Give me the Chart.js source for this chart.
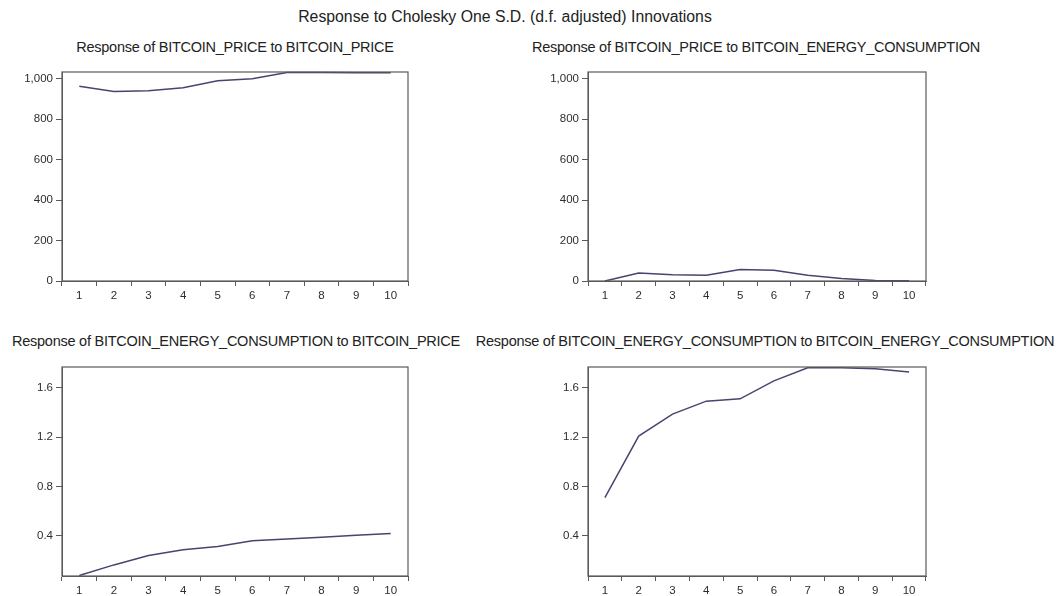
<!DOCTYPE html>
<html>
<head>
<meta charset="utf-8">
<title>Response to Cholesky One S.D. Innovations</title>
<script src="https://cdn.jsdelivr.net/npm/chart.js@4"></script>
<style>
  body { margin: 0; background: #fff; font-family: "Liberation Sans", Arial, sans-serif; color: #222; }
  #wrap { position: relative; width: 1057px; height: 596px; overflow: hidden; }
  .t { position: absolute; white-space: nowrap; transform: translate(-50%, -50%); line-height: 1; }
  .main { font-size: 15.8px; }
  .sub { font-size: 14.5px; letter-spacing: -0.25px; }
  canvas { position: absolute; }
</style>
</head>
<body>
<div id="wrap">
  <div class="t main" style="left:505px; top:17px;">Response to Cholesky One S.D. (d.f. adjusted) Innovations</div>
  <div class="t sub" style="left:235px; top:47px;">Response of BITCOIN_PRICE to BITCOIN_PRICE</div>
  <div class="t sub" style="left:756px; top:47px;">Response of BITCOIN_PRICE to BITCOIN_ENERGY_CONSUMPTION</div>
  <div class="t sub" style="left:236px; top:341px;">Response of BITCOIN_ENERGY_CONSUMPTION to BITCOIN_PRICE</div>
  <div class="t sub" style="left:765px; top:341px;">Response of BITCOIN_ENERGY_CONSUMPTION to BITCOIN_ENERGY_CONSUMPTION</div>

  <canvas id="c1" width="480" height="243" style="left:0; top:60px;"></canvas>
  <canvas id="c2" width="480" height="243" style="left:520px; top:60px;"></canvas>
  <canvas id="c3" width="480" height="243" style="left:0; top:355px;"></canvas>
  <canvas id="c4" width="480" height="243" style="left:520px; top:355px;"></canvas>
</div>

<script>
// ============================
// DATA (periods 1..10)
// ============================
const periods = ["1", "2", "3", "4", "5", "6", "7", "8", "9", "10"];

const priceToPrice   = [962, 937, 940, 955, 990, 1000, 1030, 1030, 1029, 1029];
const priceToEnergy  = [0, 39, 31, 28, 57, 53, 29, 12, 3, 1];
const energyToPrice  = [0.079, 0.165, 0.241, 0.287, 0.314, 0.360, 0.376, 0.389, 0.405, 0.419];
const energyToEnergy = [0.71, 1.21, 1.388, 1.493, 1.512, 1.658, 1.763, 1.763, 1.755, 1.73];

// y tick labels
const priceTickValues  = [0, 200, 400, 600, 800, 1000];
const energyTickValues = [0.4, 0.8, 1.2, 1.6];

// axis ranges (EViews uses common scale per row)
const priceRange  = { min: 0, max: 1033 };
const energyRange = { min: 0.075, max: 1.77 };

// ============================
// STYLE
// ============================
const lineColor = "#45456e";
const axisColor = "#5a5a5a";
const textColor = "#2e2e2e";
const tickFont = { family: "'Liberation Sans', Arial, sans-serif", size: 11.5 };

// box around plot area
const frame = {
  id: "frame",
  afterDraw(chart) {
    const a = chart.chartArea, c = chart.ctx;
    c.save();
    c.strokeStyle = axisColor;
    c.lineWidth = 1.2;
    c.strokeRect(a.left, a.top, a.right - a.left, a.bottom - a.top);
    c.restore();
  }
};

function makeChart(id, values, range, tickValues, yWidth, padRight) {
  return new Chart(document.getElementById(id), {
    type: "line",
    data: {
      labels: periods,
      datasets: [{
        data: values,
        borderColor: lineColor,
        borderWidth: 1.5,
        pointRadius: 0,
        tension: 0,
        fill: false,
        clip: 4
      }]
    },
    options: {
      responsive: false,
      animation: false,
      layout: { padding: { top: 12, right: padRight, left: 0, bottom: 0 } },
      plugins: { legend: { display: false }, title: { display: false }, tooltip: { enabled: false } },
      scales: {
        x: {
          offset: true,
          grid: { display: true, drawOnChartArea: false, offset: true, tickLength: 5, color: axisColor },
          border: { display: true, color: axisColor },
          ticks: { color: textColor, font: tickFont, padding: 3, maxRotation: 0, autoSkip: false },
          afterFit(scale) { scale.height = 22; }
        },
        y: {
          min: range.min,
          max: range.max,
          grid: { display: true, drawOnChartArea: false, tickLength: 6, color: axisColor },
          border: { display: true, color: axisColor },
          ticks: { color: textColor, font: tickFont, padding: 3 },
          afterBuildTicks(scale) { scale.ticks = tickValues.map(v => ({ value: v })); },
          afterFit(scale) { scale.width = yWidth; }
        }
      }
    },
    plugins: [frame]
  });
}

// ============================
// INIT CHARTS
// ============================
makeChart("c1", priceToPrice, priceRange, priceTickValues, 62, 72);
makeChart("c2", priceToEnergy, priceRange, priceTickValues, 68, 74);
makeChart("c3", energyToPrice, energyRange, energyTickValues, 62, 72);
makeChart("c4", energyToEnergy, energyRange, energyTickValues, 68, 74);
</script>
</body>
</html>
